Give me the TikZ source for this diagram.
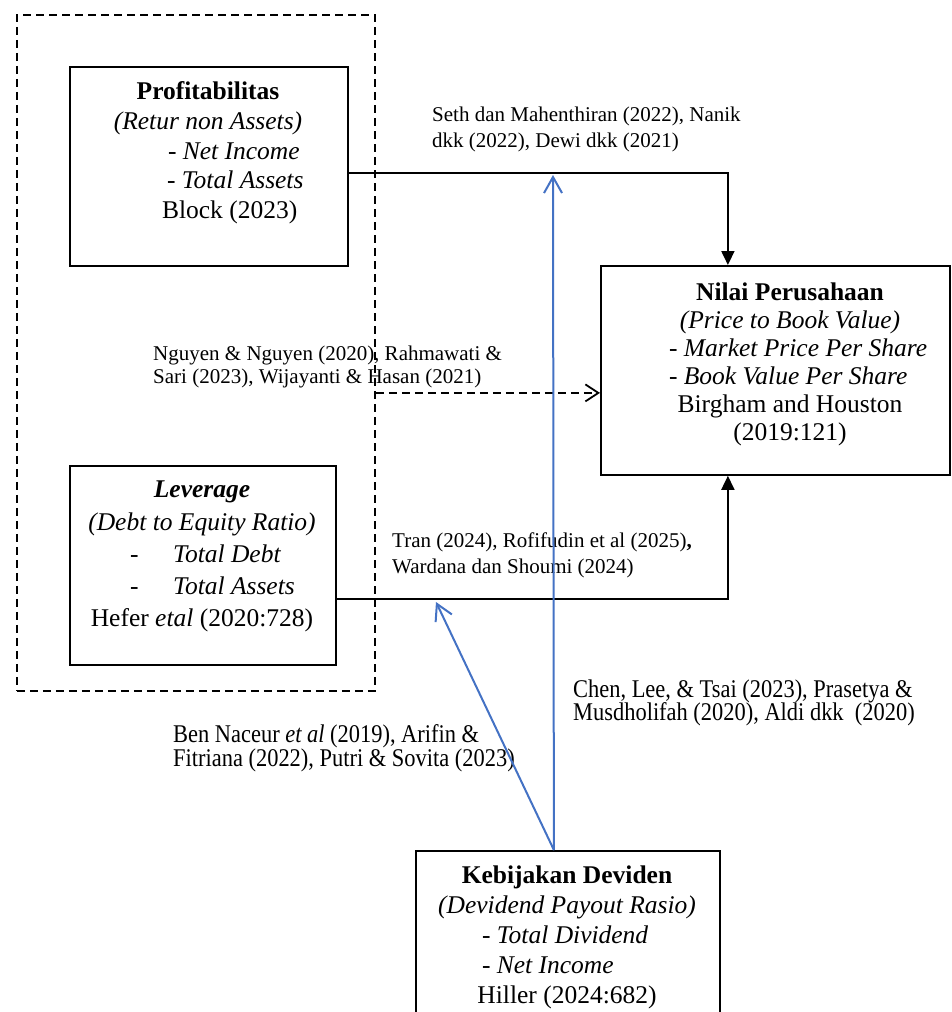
\documentclass[tikz,border=0pt]{standalone}
\usepackage{fontspec}
\setmainfont{Liberation Serif}
\newfontfamily\condfont[FakeStretch=0.88]{Liberation Serif}
\usetikzlibrary{arrows.meta}
\definecolor{linkblue}{RGB}{68,114,196}
\begin{document}
\begin{tikzpicture}[x=1pt,y=-1pt,
  boxshape/.style={draw, line width=1.8pt, rectangle, inner sep=0pt, anchor=north west},
  boxtext/.style={align=center, inner sep=0pt, anchor=north},
  lbl/.style={align=left, inner sep=0pt, anchor=north west, font=\fontsize{21}{26}\selectfont},
  condlbl/.style={align=left, inner sep=0pt, anchor=north west, font=\condfont\fontsize{25.5}{22.5}\selectfont},
  conn/.style={line width=1.8pt, -{Triangle[width=13pt,length=14pt]}},
  dasharrow/.style={line width=1.8pt, dash pattern=on 8pt off 5pt, -{Straight Barb[length=13pt,width=17pt,line width=1.8pt]}},
  bluearrow/.style={linkblue, line width=2pt, -{Straight Barb[length=16pt,width=18pt,line width=2pt]}},
  groupbox/.style={draw, line width=1.8pt, dash pattern=on 8pt off 5pt, rectangle, inner sep=0pt, anchor=north west}]
\useasboundingbox (0,0) rectangle (951,1012);
\clip (0,0) rectangle (951,1012);

% group (dashed)
\node[groupbox, minimum width=358pt, minimum height=676pt] (group) at (16,14) {};

% boxes
\node[boxshape, minimum width=278pt, minimum height=199pt] (prof) at (69,66) {};
\node[boxshape, minimum width=266pt, minimum height=199pt] (lev) at (69,465) {};
\node[boxshape, minimum width=349pt, minimum height=209pt] (nilai) at (600,265) {};
\node[boxshape, minimum width=304pt, minimum height=190pt] (keb) at (415,850) {};

% box texts
\node[boxtext, font=\fontsize{25.5}{29.75}\selectfont] (proftext) at (208,81.4) {%
  \textbf{Profitabilitas}\\
  \textit{(Retur non Assets)}\\
  \makebox[80pt][l]{- \textit{Net Income}}\\
  \makebox[82pt][l]{- \textit{Total Assets}}\\
  \makebox[92pt][l]{Block (2023)}};

\node[boxtext, font=\fontsize{25.5}{32.25}\selectfont] (levtext) at (202,481) {%
  \textbf{\textit{Leverage}}\\
  \textit{(Debt to Equity Ratio)}\\
  \makebox[144pt][l]{-\hspace{34.7pt}\textit{Total Debt}}\\
  \makebox[144pt][l]{-\hspace{34.7pt}\textit{Total Assets}}\\
  Hefer \textit{etal} (2020:728)};

\node[boxtext, font=\fontsize{25.5}{28}\selectfont] (nilaitext) at (790,282.4) {%
  \textbf{Nilai Perusahaan}\\
  \textit{(Price to Book Value)}\\
  \makebox[242pt][l]{- \textit{Market Price Per Share}}\\
  \makebox[242pt][l]{- \textit{Book Value Per Share}}\\
  Birgham and Houston\\
  (2019:121)};

\node[boxtext, font=\fontsize{25.5}{30}\selectfont] (kebtext) at (567,865.4) {%
  \textbf{Kebijakan Deviden}\\
  \textit{(Devidend Payout Rasio)}\\
  \makebox[170pt][l]{- \textit{Total Dividend}}\\
  \makebox[170pt][l]{- \textit{Net Income}}\\
  Hiller (2024:682)};

% labels
\node[lbl] (l1) at (432,106.5) {Seth dan Mahenthiran (2022), Nanik\\dkk (2022), Dewi dkk (2021)};
\node[lbl, font=\fontsize{21}{23}\selectfont] (l2) at (153,345.5) {Nguyen \& Nguyen (2020), Rahmawati \&\\Sari (2023), Wijayanti \& Hasan (2021)};
\node[lbl] (l3) at (392,532.5) {Tran (2024), Rofifudin et al (2025)\textbf{,}\\Wardana dan Shoumi (2024)};
\node[condlbl, font=\condfont\fontsize{25.5}{23.5}\selectfont] (l4) at (573,679.4) {Chen, Lee, \& Tsai (2023), Prasetya \&\\Musdholifah (2020), Aldi dkk\ \ (2020)};
\node[condlbl, font=\condfont\fontsize{25.5}{22}\selectfont] (l5) at (173,724.4) {Ben Naceur \textit{et al} (2019), Arifin \&\\Fitriana (2022), Putri \& Sovita (2023)};

% connectors
\draw[conn] ([yshift=-6.5pt]prof.east) -| ([xshift=-47.5pt]nilai.north);
\draw[conn] ([yshift=-33.5pt]lev.east) -| ([xshift=-47.5pt]nilai.south);
\draw[dasharrow] ([yshift=-40pt]group.east) -- ([yshift=-40pt]group.east -| nilai.west);

\coordinate (t1) at (553,175);
\coordinate (t2) at (436,602);
\draw[bluearrow] ([xshift=-14pt]keb.north) -- (t1);
\draw[bluearrow] ([xshift=-14pt]keb.north) -- (t2);
\end{tikzpicture}
\end{document}
